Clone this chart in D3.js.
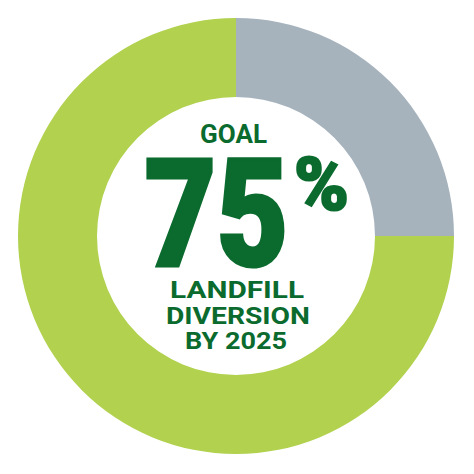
<!DOCTYPE html>
<html><head><meta charset="utf-8">
<script src="https://cdn.jsdelivr.net/npm/d3@7"></script>
<style>html,body{margin:0;padding:0;background:#fff;}svg{display:block;}</style>
</head><body>
<svg id="c" width="474" height="474"></svg>
<script>
const categories = ["Remaining", "Landfill diversion goal"];
const values = [25, 75];
const colors = ["#a6b3bd", "#b1d14f"];
const labels = ["GOAL", "75", "%", "LANDFILL", "DIVERSION", "BY 2025"];

const svg = d3.select("#c");
const cx = 236, cy = 236, rOuter = 218, rInner = 139;
const g = svg.append("g").attr("transform", `translate(${cx},${cy})`);
const pie = d3.pie().sort(null).value(d => d)(values);
const arc = d3.arc().innerRadius(rInner).outerRadius(rOuter);
g.selectAll("path").data(pie).join("path")
  .attr("d", arc).attr("fill", (d, i) => colors[i]);

const tc = "#0b6b2e";
const txt = [
  {t: labels[0], x: 200, y: 143, fs: 25, w: 67, fw: 700, sw: 0},
  {t: labels[1], x: 144.5, y: 265.5, fs: 150, w: 144, fw: 900, sw: 3},
  {t: labels[2], x: 294, y: 210, fs: 74, w: 55, fw: 900, sw: 2},
  {t: labels[3], x: 170, y: 298, fs: 24, w: 134, fw: 700, sw: 0},
  {t: labels[4], x: 166, y: 324, fs: 24, w: 144, fw: 700, sw: 0},
  {t: labels[5], x: 185, y: 349, fs: 24, w: 102, fw: 700, sw: 0}
];
svg.selectAll("text.l").data(txt).join("text").attr("class", "l")
  .attr("x", d => d.x).attr("y", d => d.y)
  .attr("font-family", "Roboto, 'DejaVu Sans', sans-serif")
  .attr("font-weight", d => d.fw)
  .attr("font-size", d => d.fs)
  .attr("fill", tc)
  .attr("stroke", d => d.sw ? tc : "none")
  .attr("stroke-width", d => d.sw)
  .attr("stroke-linejoin", "miter")
  .attr("textLength", d => d.w)
  .attr("lengthAdjust", "spacingAndGlyphs")
  .text(d => d.t);
</script>
</body></html>
